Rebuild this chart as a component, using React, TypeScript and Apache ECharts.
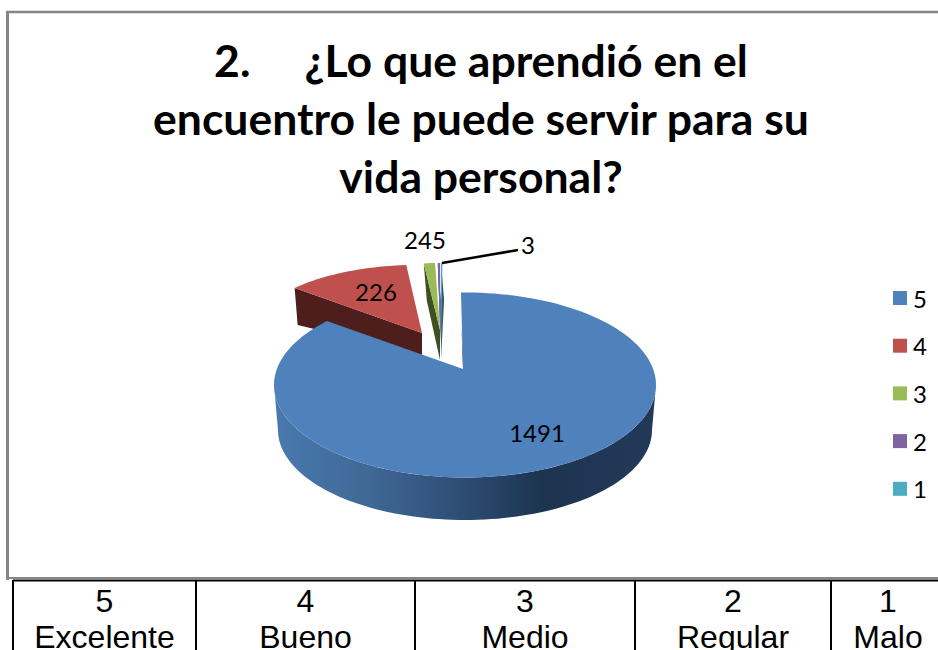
import React, { useEffect, useRef } from "react";
import * as echarts from "echarts";

// ---- data ----
const sliceNames = ["5", "4", "3", "2", "1"];
const sliceValues = [1491, 226, 24, 5, 3];
const titleLines = ["2.\u00A0\u00A0\u00A0\u00A0 ¿Lo que aprendió en el", "encuentro le puede servir para su", "vida personal?"];
const tableScores = ["5", "4", "3", "2", "1"];
const tableLabels = ["Excelente", "Bueno", "Medio", "Regular", "Malo"];

// ---- styles and projection of the exploded 3D pie ----
const colors = ["#4f81bd", "#c0504d", "#9bbb59", "#8064a2", "#4bacc6"];
const sideColors = ["#1f3552", "#4d1e1c", "#3e4f22", "#3f2f5a", "#256070"];
const geometry = [
  { cx: 465, cy: 385, rx: 191, ry: 92.5, ax: 463, ay: 369, shift: -1.2, scale: 1.026, dOuter: 0, dInner: 0 },
  { cx: 425, cy: 323.5, rx: 163, ry: 59, ax: 422, ay: 333, shift: 0, scale: 1, dOuter: 37, dInner: 22 },
  { cx: 438.7, cy: 322, rx: 130, ry: 59, ax: 440, ay: 330, shift: 0, scale: 1, dOuter: 37, dInner: 30 },
  { cx: 441.5, cy: 322, rx: 130, ry: 59, ax: 440.5, ay: 340, shift: 0, scale: 1, dOuter: 37, dInner: 20 },
  { cx: 442.5, cy: 322, rx: 130, ry: 59, ax: 441, ay: 340, shift: 0, scale: 1, dOuter: 37, dInner: 20 },
];
const rimBottom = { cx: 465, cy: 430, rx: 187, ry: 90 };
const frameColor = "#868686";
const labelFont = "Lato";
const tableLinesX = [13, 196, 415, 635, 831, 945];

const total = sliceValues.reduce((a, b) => a + b, 0);
const startDegrees = sliceValues.map((_, i) =>
  (sliceValues.slice(0, i).reduce((a, b) => a + b, 0) / total) * 360,
);

function ellipsePoint(e: { cx: number; cy: number; rx: number; ry: number }, deg: number) {
  const t = (deg * Math.PI) / 180;
  return [e.cx + e.rx * Math.sin(t), e.cy - e.ry * Math.cos(t)];
}

function arcPoints(e: any, from: number, to: number) {
  const n = Math.max(2, Math.ceil(Math.abs(to - from) / 2));
  const pts: number[][] = [];
  for (let i = 0; i <= n; i++) pts.push(ellipsePoint(e, from + ((to - from) * i) / n));
  return pts;
}

function label(text: string, x: number, y: number) {
  return {
    type: "text",
    z2: 10,
    style: { text, x, y, fontFamily: labelFont, fontSize: 24, fill: "#000", textAlign: "center", textVerticalAlign: "middle" },
  };
}

function renderSlice(index: number) {
  return (_: any, api: any) => {
    const value = api.value(0) as number;
    const g = geometry[index];
    const sweep = (value / total) * 360;
    const a0 = startDegrees[index] * g.scale + g.shift;
    const a1 = (startDegrees[index] + sweep) * g.scale + g.shift;
    const arc = arcPoints(g, a0, a1);
    const children: any[] = [];

    if (index === 0) {
      // outer rim of the big slice, seen from the front
      const top = arcPoints(g, 90, 270);
      const bottom = arcPoints(rimBottom, 270, 90);
      children.push({
        type: "polygon",
        shape: { points: [...top, ...bottom] },
        style: {
          fill: {
            type: "linear", x: 0, y: 0, x2: 1, y2: 0,
            colorStops: [
              { offset: 0, color: "#4a79ae" },
              { offset: 0.25, color: "#3f6896" },
              { offset: 0.5, color: "#2d4c72" },
              { offset: 0.7, color: "#1d3450" },
              { offset: 1, color: "#22395a" },
            ],
          },
        },
      });
      // thin inner cut face along the slice's starting edge
      children.push({
        type: "polygon",
        shape: { points: [[g.ax - 1.5, 327], [g.ax, g.ay], [g.ax + 1, g.ay]] },
        style: { fill: sideColors[0] },
      });
    } else {
      // cut face, visible below the slice's leading edge
      const corner = arc[0];
      children.push({
        type: "polygon",
        shape: {
          points: [
            corner,
            [g.ax, g.ay],
            [g.ax, g.ay + g.dInner],
            [corner[0] + 3, corner[1] + g.dOuter],
          ],
        },
        style: { fill: sideColors[index] },
      });
    }

    children.push({
      type: "polygon",
      shape: { points: [...arc, [g.ax, g.ay]] },
      style: { fill: colors[index] },
    });

    if (index === 0) children.push(label(String(value), 537, 432));
    if (index === 1) children.push(label(String(value), 376, 291));
    // the labels of the two thin slices run together in the picture
    if (index === 2) children.push(label(`${value}${sliceValues[3]}`, 425, 239));
    if (index === 4) {
      children.push({
        type: "polyline",
        shape: { points: [[442, 263], [518, 250]] },
        style: { stroke: "#000", lineWidth: 2.5, fill: "none" },
      });
      children.push(label(String(value), 528, 244));
    }
    return { type: "group", children };
  };
}

export default function App() {
  const ref = useRef<HTMLDivElement>(null);
  useEffect(() => {
    document.body.style.margin = "0";
    document.body.style.overflow = "hidden";
    const chart = echarts.init(ref.current!, undefined, { renderer: "svg" });

    const vLine = (x: number, y1: number, y2: number, stroke: string, lineWidth: number) => ({
      type: "line", z: 20, shape: { x1: x, y1, x2: x, y2 }, style: { stroke, lineWidth },
    });
    const hLine = (y: number, x1: number, x2: number, stroke: string, lineWidth: number) => ({
      type: "line", z: 20, shape: { x1, y1: y, x2, y2: y }, style: { stroke, lineWidth },
    });
    const cellText = (text: string, x: number, y: number) => ({
      type: "text", z: 20,
      style: { text, x, y, fontFamily: "Liberation Sans", fontSize: 32, fill: "#000", textAlign: "center", textVerticalAlign: "middle" },
    });

    const tableCentres = tableScores.map((_, i) => (tableLinesX[i] + tableLinesX[i + 1]) / 2);

    chart.setOption({
      animation: false,
      backgroundColor: "#fff",
      title: {
        text: titleLines.join("\n"),
        left: 476,
        top: 25,
        textAlign: "center",
        textStyle: { fontFamily: "Lato", fontWeight: 700, fontSize: 44.5, lineHeight: 58, color: "#000" },
      },
      legend: {
        orient: "vertical",
        left: 893,
        top: 286,
        padding: 0,
        itemWidth: 14,
        itemHeight: 14,
        itemGap: 23.7,
        icon: "rect",
        data: sliceNames,
        textStyle: { fontFamily: "Lato", fontSize: 24, lineHeight: 14, color: "#000", padding: [0, 0, 0, 1] },
      },
      series: sliceNames.map((name, i) => ({
        type: "custom",
        name,
        coordinateSystem: "none",
        z: i === 0 ? 5 : 2,
        silent: true,
        itemStyle: { color: colors[i] },
        data: [sliceValues[i]],
        renderItem: renderSlice(i),
      })),
      graphic: {
        elements: [
          vLine(7.5, 11, 580, frameColor, 3),
          hLine(12, 6, 938, frameColor, 2.5),
          hLine(578, 6, 938, frameColor, 2),
          hLine(580.5, 13, 938, "#000", 2),
          ...tableLinesX.slice(0, 5).map((x) => vLine(x, 580, 650, "#000", 2)),
          ...tableScores.map((t, i) => cellText(t, tableCentres[i], 601)),
          ...tableLabels.map((t, i) => cellText(t, tableCentres[i], 637)),
        ],
      },
    });
    return () => chart.dispose();
  }, []);
  return <div ref={ref} style={{ position: "absolute", left: 0, top: 0, width: 938, height: 650 }} />;
}
